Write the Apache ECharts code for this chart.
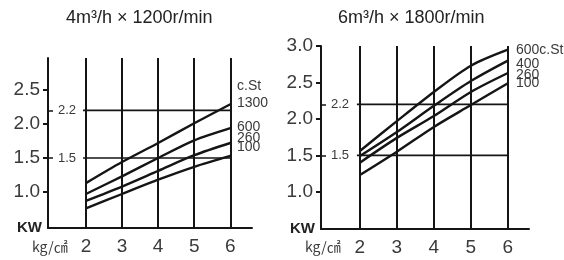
<!DOCTYPE html>
<html>
<head>
<meta charset="utf-8">
<script src="https://cdn.jsdelivr.net/npm/echarts@6/dist/echarts.min.js"></script>
<style>
  html, body { margin: 0; padding: 0; background: #fff; }
  #main { width: 564px; height: 260px; }
</style>
</head>
<body>
<div id="main"></div>
<script>
// pressure (kg/cm2) on the x axis
var pressure = [2, 3, 4, 5, 6];
var yTicksLeft = [1.0, 1.5, 2.0, 2.5];
var yTicksRight = [1.0, 1.5, 2.0, 2.5, 3.0];
var refLevels = [1.5, 2.2];

// 4m3/h x 1200r/min, kW by viscosity
var left1300 = [1.13, 1.44, 1.72, 2.01, 2.29];
var left600 = [0.97, 1.23, 1.50, 1.76, 1.94];
var left260 = [0.87, 1.08, 1.31, 1.54, 1.72];
var left100 = [0.76, 0.97, 1.18, 1.37, 1.53];

// 6m3/h x 1800r/min
var right600 = [1.56, 1.97, 2.37, 2.73, 2.95];
var right400 = [1.49, 1.82, 2.18, 2.52, 2.80];
var right260 = [1.40, 1.74, 2.04, 2.37, 2.63];
var right100 = [1.23, 1.55, 1.89, 2.19, 2.49];

var ink = '#151515';
var txt = '#3a3a3a';
var numFont = 'Liberation Sans';

function pts(vals) {
    return pressure.map(function (p, i) { return [p, vals[i]]; });
}

function curve(idx, vals) {
    return {
        type: 'line', xAxisIndex: idx, yAxisIndex: idx * 2,
        data: pts(vals), smooth: 0.3, symbol: 'none',
        lineStyle: { color: ink, width: 2.4 }
    };
}

function refLine(idx, lvl) {
    return {
        type: 'line', xAxisIndex: idx, yAxisIndex: idx * 2,
        data: [[1.92, lvl], [6, lvl]], symbol: 'none',
        lineStyle: { color: ink, width: 1.6 }
    };
}

function verticals(idx) {
    return {
        type: 'line', xAxisIndex: idx, yAxisIndex: idx * 2, data: [],
        markLine: {
            silent: true, symbol: 'none', label: { show: false },
            lineStyle: { color: ink, width: 2, type: 'solid' },
            data: pressure.map(function (p) { return { xAxis: p }; })
        }
    };
}

function xAx(idx, mn, mx) {
    return {
        type: 'value', gridIndex: idx, min: mn, max: mx,
        axisLine: { show: true, lineStyle: { color: ink, width: 2 } },
        axisTick: { show: false },
        splitLine: { show: false },
        axisLabel: {
            customValues: pressure, margin: 9,
            fontFamily: numFont, fontSize: 19, color: txt
        }
    };
}

function yAx(idx, mn, mx, ticks) {
    return [{
        type: 'value', gridIndex: idx, min: mn, max: mx,
        axisLine: { show: true, lineStyle: { color: ink, width: 2 } },
        axisTick: { show: true, customValues: ticks, length: 5, lineStyle: { color: ink, width: 2 } },
        splitLine: { show: false },
        axisLabel: {
            customValues: ticks, margin: 8,
            formatter: function (v) { return v.toFixed(1); },
            fontFamily: numFont, fontSize: 19, color: txt
        }
    }, {
        type: 'value', gridIndex: idx, min: mn, max: mx, position: 'left',
        axisLine: { show: false },
        axisTick: { show: true, inside: true, customValues: refLevels, length: 5, lineStyle: { color: ink, width: 1.5 } },
        splitLine: { show: false },
        axisLabel: {
            inside: true, customValues: refLevels, margin: 10,
            formatter: function (v) { return v.toFixed(1); },
            fontFamily: numFont, fontSize: 13, color: txt
        }
    }];
}

function label(x, y, text, size, extra) {
    var s = { text: text, fontFamily: 'Liberation Sans Narrow, Liberation Sans', fontSize: size, fill: txt };
    for (var k in extra) s[k] = extra[k];
    return { type: 'text', left: x, top: y, style: s, silent: true };
}

var chartEl = document.getElementById('main');
var myChart = echarts.init(chartEl, null, { renderer: 'canvas' });
myChart.setOption({
    animation: false,
    backgroundColor: '#fff',
    grid: [
        { left: 48, top: 58, width: 204, height: 170 },
        { left: 321, top: 46, width: 208, height: 183 }
    ],
    xAxis: [xAx(0, 0.95, 6.6), xAx(1, 0.95, 6.57)],
    yAxis: yAx(0, 0.47, 2.97, yTicksLeft).concat(yAx(1, 0.49, 3.0, yTicksRight)),
    series: [
        verticals(0), verticals(1),
        refLine(0, refLevels[0]), refLine(0, refLevels[1]),
        refLine(1, refLevels[0]), refLine(1, refLevels[1]),
        curve(0, left1300), curve(0, left600), curve(0, left260), curve(0, left100),
        curve(1, right600), curve(1, right400), curve(1, right260), curve(1, right100)
    ],
    graphic: [
        label(66, 9, '4m³/h × 1200r/min', 18, { fontFamily: 'Liberation Sans', fill: '#222' }),
        label(338, 9, '6m³/h × 1800r/min', 18, { fontFamily: 'Liberation Sans', fill: '#222' }),
        label(17, 220, 'KW', 15, { fontFamily: 'Liberation Sans', fontWeight: 'bold', fill: '#222' }),
        label(290, 221, 'KW', 15, { fontFamily: 'Liberation Sans', fontWeight: 'bold', fill: '#222' }),
        label(32, 240, 'kg/㎠', 14, { fontFamily: 'Noto Sans CJK SC' }),
        label(305, 240, 'kg/㎠', 14, { fontFamily: 'Noto Sans CJK SC' }),
        label(237, 79, 'c.St', 14, {}),
        label(237, 96, '1300', 14, {}),
        label(237, 120, '600', 14, {}),
        label(237, 131, '260', 14, {}),
        label(237, 140, '100', 14, {}),
        label(516, 43, '600c.St', 14, {}),
        label(516, 57, '400', 14, {}),
        label(516, 68, '260', 14, {}),
        label(516, 76, '100', 14, {})
    ]
});
</script>
</body>
</html>
